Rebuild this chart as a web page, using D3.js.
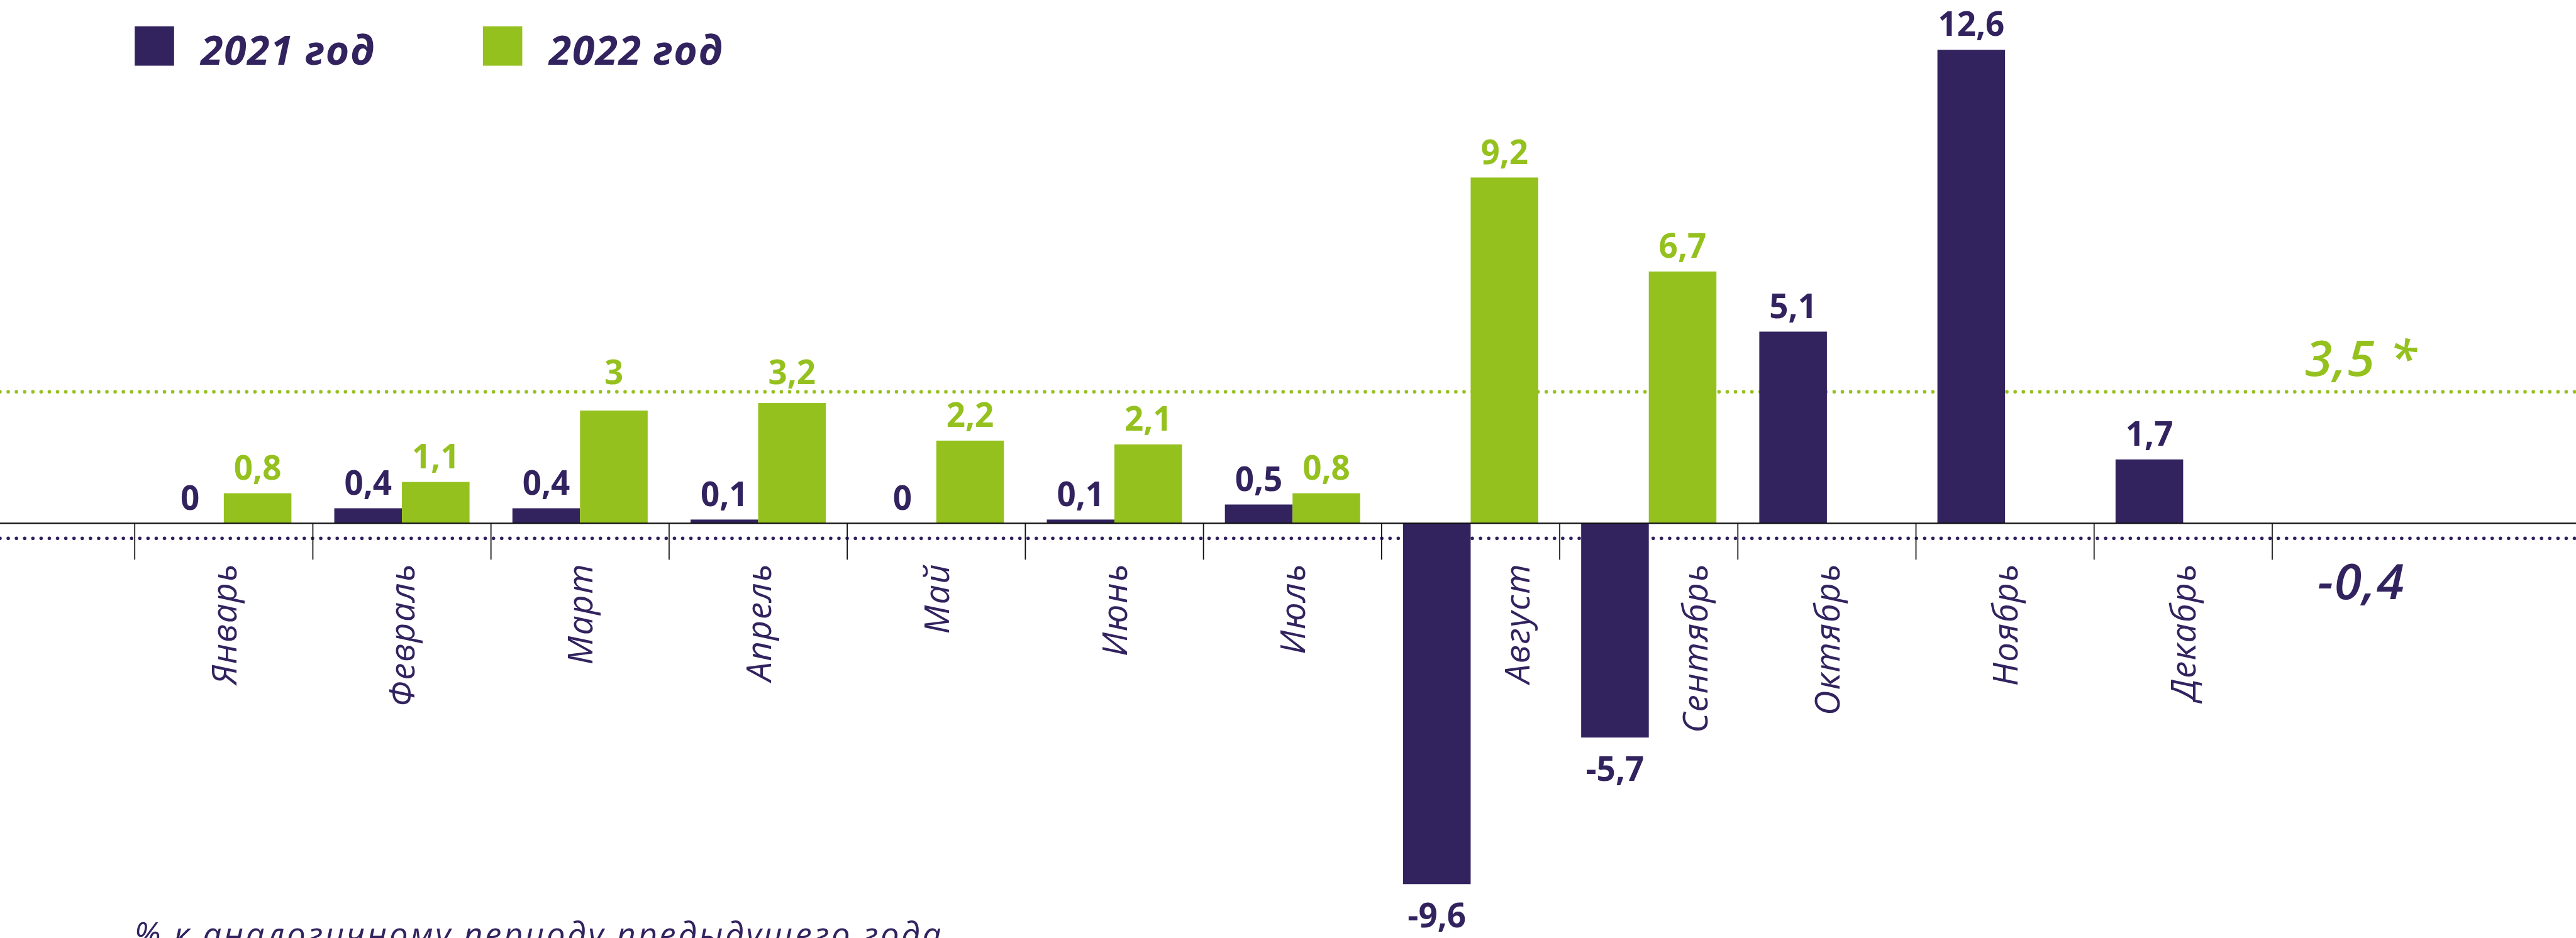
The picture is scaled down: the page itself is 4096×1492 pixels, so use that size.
<!DOCTYPE html>
<html>
<head>
<meta charset="utf-8">
<script src="https://cdn.jsdelivr.net/npm/d3@7"></script>
<style>
  html, body { margin: 0; padding: 0; background: #ffffff; }
  svg { display: block; }
  text { font-family: "Open Sans", "Noto Sans", "DejaVu Sans", sans-serif; }
</style>
</head>
<body>
<div id="chart"></div>
<script>
// ---- data ----
const months = ['Январь','Февраль','Март','Апрель','Май','Июнь','Июль','Август','Сентябрь','Октябрь','Ноябрь','Декабрь'];
const values2021 = [0, 0.4, 0.4, 0.1, 0, 0.1, 0.5, -9.6, -5.7, 5.1, 12.6, 1.7];
const values2022 = [0.8, 1.1, 3, 3.2, 2.2, 2.1, 0.8, 9.2, 6.7, null, null, null];
const seriesNames = ['2021 год', '2022 год'];
const seriesKeys = ['2021', '2022'];
const averages = [-0.4, 3.5];
const averageLabels = ['-0,4', '3,5 *'];
const footnote = '% к аналогичному периоду предыдущего года';

// ---- styles ----
const W = 5105, H = 1859;
const DARK = '#32235f', GREEN = '#95c11f';
const colors = [DARK, GREEN];

const svg = d3.select('#chart').append('svg')
  .attr('width', 4096).attr('height', 1492)
  .attr('viewBox', `0 0 ${W} ${H}`);

const avgKey = 'avg';
const x = d3.scaleBand().domain([...months, avgKey]).range([267, 267 + 353 * 13]);
const bw = x.bandwidth();
const xs = d3.scaleBand().domain(seriesKeys).range([0, bw]).paddingOuter(0.317).paddingInner(0);
const y = d3.scaleLinear().domain([-11.03, 13.92]).range([H, 0]);
const y0 = y(0);
const fmt = v => String(v).replace('.', ',');

// average dotted lines (behind bars)
svg.selectAll('line.avg').data(averages).join('line')
  .attr('class', 'avg')
  .attr('x1', 0).attr('x2', W)
  .attr('y1', d => y(d)).attr('y2', d => y(d))
  .attr('stroke', (d, i) => colors[i])
  .attr('stroke-width', 7)
  .attr('stroke-linecap', 'round')
  .attr('stroke-dasharray', '0 16.3');

// bars
const rows = months.map((m, i) => ({ m, i, vals: [values2021[i], values2022[i]] }));
const flat = [];
rows.forEach(r => r.vals.forEach((v, s) => { if (v !== null) flat.push({ m: r.m, s, v }); }));

svg.selectAll('rect.bar').data(flat).join('rect')
  .attr('class', 'bar')
  .attr('x', d => x(d.m) + xs(seriesKeys[d.s]))
  .attr('width', xs.bandwidth())
  .attr('y', d => Math.min(y(d.v), y0))
  .attr('height', d => Math.abs(y(d.v) - y0))
  .attr('fill', d => colors[d.s]);

// zero axis line
svg.append('line')
  .attr('x1', 0).attr('x2', W).attr('y1', y0).attr('y2', y0)
  .attr('stroke', '#111').attr('stroke-width', 3);

// ticks at band edges
const tickX = [...months.map(m => x(m)), x(months[months.length - 1]) + bw];
svg.selectAll('line.tick').data(tickX).join('line')
  .attr('class', 'tick')
  .attr('x1', d => d).attr('x2', d => d)
  .attr('y1', y0).attr('y2', y0 + 72)
  .attr('stroke', '#111').attr('stroke-width', 2.2);

// value labels
const refY = y(averages[1]);
svg.selectAll('text.val').data(flat).join('text')
  .attr('class', 'val')
  .attr('x', d => x(d.m) + xs(seriesKeys[d.s]) + xs.bandwidth() / 2)
  .attr('y', d => {
    if (d.v < 0) return y(d.v) + 86;
    let b = y(d.v) - 27;
    if (b - 45 < refY + 6 && b + 12 > refY - 6) b = refY - 15;
    return b;
  })
  .attr('text-anchor', 'middle')
  .attr('font-size', 66)
  .attr('font-weight', 700)
  .attr('fill', d => colors[d.s])
  .text(d => fmt(d.v));

// month labels (rotated)
svg.selectAll('text.month').data(rows).join('text')
  .attr('class', 'month')
  .attr('transform', d => {
    const shift = values2021[d.i] < 0 ? 0.26 * bw : 0;
    return `translate(${x(d.m) + bw / 2 + shift + 25},1116) rotate(-90)`;
  })
  .attr('text-anchor', 'end')
  .attr('font-size', 68)
  .attr('letter-spacing', 2)
  .attr('font-style', 'italic')
  .attr('fill', DARK)
  .text(d => d.m);

// average labels at the right
const avgLabelY = [1187, 745];
svg.selectAll('text.avglab').data(averageLabels).join('text')
  .attr('class', 'avglab')
  .attr('x', x(avgKey) + bw / 2)
  .attr('y', (d, i) => avgLabelY[i])
  .attr('text-anchor', 'middle')
  .attr('font-size', 98)
  .attr('font-style', 'italic')
  .attr('font-weight', 600)
  .attr('letter-spacing', 2)
  .attr('fill', (d, i) => colors[i])
  .text(d => d);

// legend
const legendX = [267, 957];
const lg = svg.selectAll('g.legend').data(seriesNames).join('g')
  .attr('class', 'legend')
  .attr('transform', (d, i) => `translate(${legendX[i]},52)`);
lg.append('rect').attr('width', 78).attr('height', 78).attr('fill', (d, i) => colors[i]);
lg.append('text')
  .attr('x', 131).attr('y', 76)
  .attr('font-size', 80)
  .attr('font-weight', 700)
  .attr('font-style', 'italic')
  .attr('letter-spacing', 2)
  .attr('fill', DARK)
  .text(d => d);

// footnote (cut at bottom edge as in the original)
svg.append('text')
  .attr('x', 266).attr('y', 1875)
  .attr('font-size', 66)
  .attr('font-style', 'italic')
  .attr('letter-spacing', 4.3)
  .attr('fill', DARK)
  .text(footnote);
</script>
</body>
</html>
